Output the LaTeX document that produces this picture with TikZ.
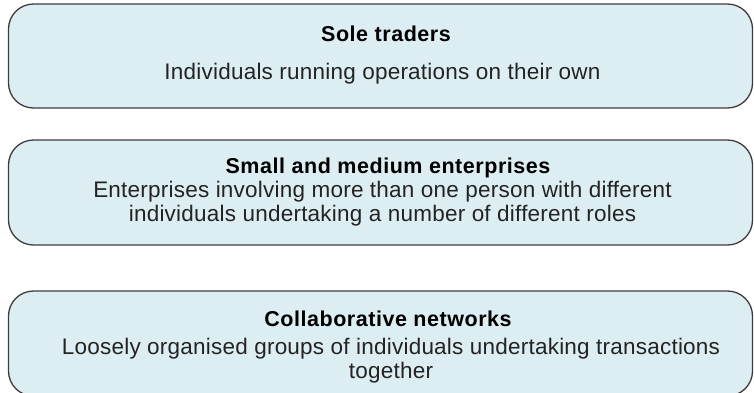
\documentclass[tikz,border=0pt]{standalone}
\usepackage{fontspec}
\setmainfont{Liberation Sans}
\newfontfamily\bodyface[LetterSpace=1]{Liberation Sans}
\newfontfamily\headface[LetterSpace=2.5]{Liberation Sans}
\definecolor{panelfill}{RGB}{221,238,242}
\definecolor{panelline}{RGB}{60,60,60}
\definecolor{inktext}{RGB}{35,35,35}
\tikzset{
  panel/.style={draw=panelline, fill=panelfill, line width=1.3pt,
    rounded corners=25pt, minimum width=744pt, minimum height=104pt,
    inner sep=0pt},
  headtext/.style={font=\headface\bfseries\fontsize{21.5}{25}\selectfont,
    text=black, inner sep=0pt, anchor=base},
  bodytext/.style={font=\bodyface\fontsize{22.5}{23.5}\selectfont,
    text=inktext, inner sep=0pt, align=center, anchor=base},
}
\begin{document}
\begin{tikzpicture}[x=1pt,y=-1pt]
  \useasboundingbox (0,0) rectangle (754,392);
  \clip (0,0) rectangle (754,392);
  % three stacked panels
  \node[panel] (sole)   at (380.5,56)  {};
  \node[panel, minimum height=105pt] (sme)    at (380.5,192.5) {};
  \node[panel, minimum height=105pt] (collab) at (380.5,343.5) {};
  % panel titles
  \node[headtext] (soleT)   at (386,41)  {Sole traders};
  \node[headtext] (smeT)    at (388,173) {Small and medium enterprises};
  \node[headtext] (collabT) at (388,326) {Collaborative networks};
  % panel descriptions (base anchor = last line)
  \node[bodytext] (soleB) at (382.5,79)
    {Individuals running operations on their own};
  \node[bodytext] (smeB) at (382.5,221)
    {Enterprises involving more than one person with different\\
     individuals undertaking a number of different roles};
  \node[bodytext] (collabB) at (391,378)
    {Loosely organised groups of individuals undertaking transactions\\
     together};
\end{tikzpicture}
\end{document}
